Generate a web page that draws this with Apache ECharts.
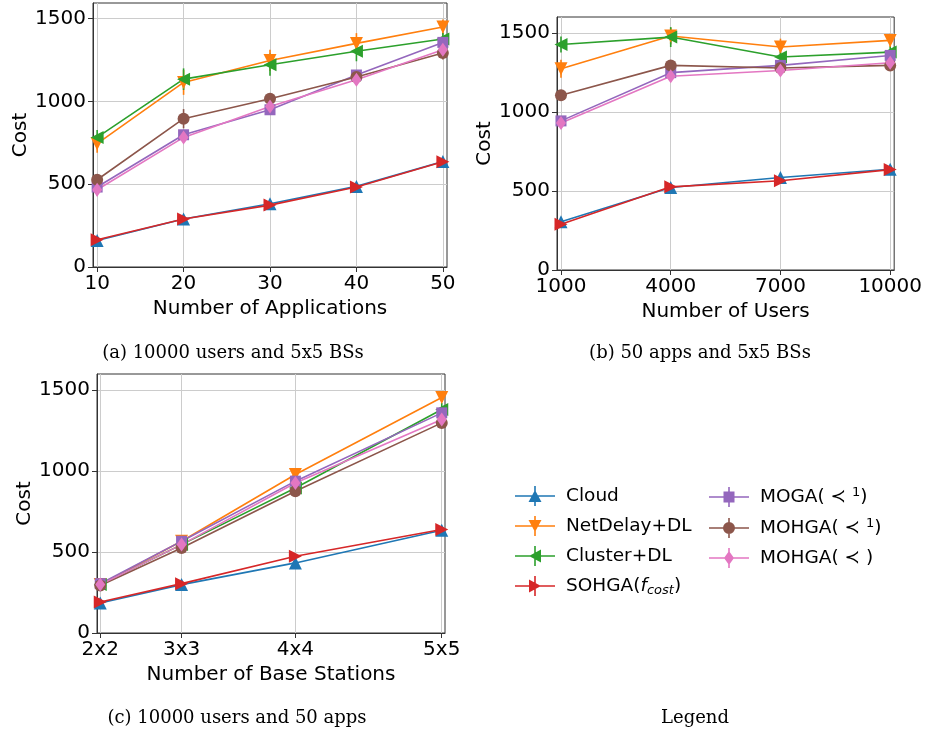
<!DOCTYPE html>
<html><head><meta charset="utf-8">
<script src="https://cdn.jsdelivr.net/npm/echarts@6/dist/echarts.min.js"></script>
<style>html,body{margin:0;padding:0;background:#fff}#c{width:925px;height:736px}</style>
</head><body><div id="c"></div>
<script>
// ---------- data ----------
const seriesNames = ['Cloud','NetDelay+DL','Cluster+DL','SOHGA(fcost)','MOGA(≺¹)','MOHGA(≺¹)','MOHGA(≺)'];
const seriesColors = ['#1f77b4','#ff7f0e','#2ca02c','#d62728','#9467bd','#8c564b','#e377c2'];

const appsX = [10,20,30,40,50];
const usersX = [1000,4000,7000,10000];
const bsX = [4,9,16,25];
const bsLabels = ['2x2','3x3','4x4','5x5'];
const yTicks = [0,500,1000,1500];

// (a) 10000 users and 5x5 BSs
const appsCloud    = [160,290,382,487,638];
const appsNetDelay = [745,1115,1248,1351,1450];
const appsCluster  = [783,1135,1222,1303,1377];
const appsSOHGA    = [165,290,374,483,636];
const appsMOGA     = [483,799,950,1160,1357];
const appsMOHGA1   = [527,896,1017,1148,1293];
const appsMOHGA    = [467,783,970,1131,1313];
const appsCloudErr    = [10,12,12,12,12];
const appsNetDelayErr = [55,75,64,62,45];
const appsClusterErr  = [45,65,66,60,36];
const appsSOHGAErr    = [10,10,10,10,10];
const appsMOGAErr     = [25,30,30,30,30];
const appsMOHGA1Err   = [30,58,30,30,40];
const appsMOHGAErr    = [40,30,30,30,35];

// (b) 50 apps and 5x5 BSs
const usersCloud    = [305,522,585,637];
const usersNetDelay = [1273,1480,1410,1452];
const usersCluster  = [1426,1473,1347,1378];
const usersSOHGA    = [290,526,564,635];
const usersMOGA     = [943,1248,1294,1357];
const usersMOHGA1   = [1105,1294,1277,1294];
const usersMOHGA    = [930,1225,1262,1311];
const usersCloudErr    = [12,12,12,12];
const usersNetDelayErr = [57,53,53,42];
const usersClusterErr  = [50,63,35,35];
const usersSOHGAErr    = [10,10,10,10];
const usersMOGAErr     = [25,30,30,30];
const usersMOHGA1Err   = [25,30,25,30];
const usersMOHGAErr    = [35,30,30,30];

// (c) 10000 users and 50 apps
const bsCloud    = [185,299,433,635];
const bsNetDelay = [299,567,979,1455];
const bsCluster  = [300,546,896,1381];
const bsSOHGA    = [192,305,474,639];
const bsMOGA     = [305,567,938,1360];
const bsMOHGA1   = [293,525,876,1298];
const bsMOHGA    = [299,546,927,1319];
const bsCloudErr    = [10,10,10,10];
const bsNetDelayErr = [25,30,30,30];
const bsClusterErr  = [25,30,30,40];
const bsSOHGAErr    = [10,10,10,10];
const bsMOGAErr     = [25,30,30,30];
const bsMOHGA1Err   = [25,30,30,30];
const bsMOHGAErr    = [25,30,30,50];

// ---------- build ----------
const FONT = 'DejaVu Sans';
const panels = [
  {xs: appsX, name: 'Number of Applications', min: 9.52, max: 50.48, ymax: 1595,
   grid: {left: 93, top: 3, width: 354, height: 264}, fmt: v => String(v),
   vals: [appsCloud,appsNetDelay,appsCluster,appsSOHGA,appsMOGA,appsMOHGA1,appsMOHGA],
   errs: [appsCloudErr,appsNetDelayErr,appsClusterErr,appsSOHGAErr,appsMOGAErr,appsMOHGA1Err,appsMOHGAErr]},
  {xs: usersX, name: 'Number of Users', min: 891, max: 10109, ymax: 1600,
   grid: {left: 557, top: 17, width: 339, height: 253}, fmt: v => String(v),
   vals: [usersCloud,usersNetDelay,usersCluster,usersSOHGA,usersMOGA,usersMOHGA1,usersMOHGA],
   errs: [usersCloudErr,usersNetDelayErr,usersClusterErr,usersSOHGAErr,usersMOGAErr,usersMOHGA1Err,usersMOHGAErr]},
  {xs: bsX, name: 'Number of Base Stations', min: 3.8, max: 25.2, ymax: 1600,
   grid: {left: 97, top: 374, width: 348, height: 259}, fmt: v => bsLabels[bsX.indexOf(v)],
   vals: [bsCloud,bsNetDelay,bsCluster,bsSOHGA,bsMOGA,bsMOHGA1,bsMOHGA],
   errs: [bsCloudErr,bsNetDelayErr,bsClusterErr,bsSOHGAErr,bsMOGAErr,bsMOHGA1Err,bsMOHGAErr]}
];

const symbols = [
  {symbol: 'triangle', size: 13, rot: 0},
  {symbol: 'triangle', size: 13, rot: 180},
  {symbol: 'triangle', size: 13, rot: 90},
  {symbol: 'triangle', size: 13, rot: -90},
  {symbol: 'rect', size: 11, rot: 0},
  {symbol: 'circle', size: 12, rot: 0},
  {symbol: 'diamond', size: [10, 14], rot: 0}
];

const base = 'M0,9.2h40v1.6H0z M19.2,0h1.6v20h-1.6z ';
const legendIcons = [
  'path://' + base + 'M20,4L26.5,16H13.5z',
  'path://' + base + 'M20,16L13.5,4H26.5z',
  'path://' + base + 'M14,10L26,3.5V16.5z',
  'path://' + base + 'M26,10L14,16.5V3.5z',
  'path://' + base + 'M14.5,4.5h11v11h-11z',
  'path://' + base + 'M14,10a6,6 0 1,1 12,0a6,6 0 1,1 -12,0z',
  'path://' + base + 'M20,3L25,10L20,17L15,10z'
];

const grids = [], xAxes = [], yAxes = [], series = [];
panels.forEach((p, pi) => {
  grids.push(Object.assign({show: true, borderColor: '#333', borderWidth: 1, backgroundColor: 'transparent'}, p.grid));
  xAxes.push({
    type: 'value', gridIndex: pi, min: p.min, max: p.max,
    name: p.name, nameLocation: 'middle', nameGap: 32,
    nameTextStyle: {fontSize: 20, color: '#000', fontFamily: FONT},
    axisLine: {show: true, onZero: false, lineStyle: {color: '#333', width: 1}},
    axisTick: {show: true, length: 5, customValues: p.xs, lineStyle: {color: '#333'}},
    axisLabel: {customValues: p.xs, formatter: p.fmt, fontSize: 20, color: '#000', fontFamily: FONT, margin: 7},
    splitLine: {show: true, lineStyle: {color: '#cccccc', width: 1}}
  });
  yAxes.push({
    type: 'value', gridIndex: pi, min: 0, max: p.ymax,
    name: 'Cost', nameLocation: 'middle', nameGap: 56,
    nameTextStyle: {fontSize: 20, color: '#000', fontFamily: FONT},
    axisLine: {show: true, lineStyle: {color: '#333', width: 1}},
    axisTick: {show: true, length: 5, customValues: yTicks, lineStyle: {color: '#333'}},
    axisLabel: {customValues: yTicks, formatter: v => String(v), fontSize: 20, color: '#000', fontFamily: FONT, margin: 7},
    splitLine: {show: true, lineStyle: {color: '#cccccc', width: 1}}
  });
  seriesNames.forEach((nm, si) => {
    const color = seriesColors[si];
    series.push({
      type: 'custom', name: nm + ' err', xAxisIndex: pi, yAxisIndex: pi, silent: true,
      data: p.xs.map((x, i) => [x, p.vals[si][i], p.errs[si][i]]),
      renderItem: (params, api) => {
        const x = api.value(0), v = api.value(1), e = api.value(2);
        const a = api.coord([x, v - e]), b = api.coord([x, v + e]);
        return {type: 'line', shape: {x1: a[0], y1: a[1], x2: b[0], y2: b[1]},
                style: {stroke: color, lineWidth: 1.6}};
      }
    });
    series.push({
      type: 'line', name: nm, xAxisIndex: pi, yAxisIndex: pi,
      data: p.xs.map((x, i) => [x, p.vals[si][i]]),
      symbol: symbols[si].symbol, symbolSize: symbols[si].size, symbolRotate: symbols[si].rot,
      showAllSymbol: true,
      lineStyle: {color: color, width: 1.6},
      itemStyle: {color: color, borderWidth: 0},
      emphasis: {disabled: true}
    });
  });
});

const richStyles = {
  n: {fontSize: 18.5, fontFamily: FONT, color: '#000', lineHeight: 22},
  i: {fontSize: 18.5, fontFamily: FONT, fontStyle: 'italic', color: '#000', lineHeight: 22},
  sub: {fontSize: 13, fontFamily: FONT, fontStyle: 'italic', color: '#000', lineHeight: 13, verticalAlign: 'bottom'},
  sup: {fontSize: 13, fontFamily: FONT, color: '#000', lineHeight: 13, verticalAlign: 'top'}
};
function legendFmt(name) {
  if (name === 'SOHGA(fcost)') return '{n|SOHGA(}{i|f}{sub|cost}{n|)}';
  if (name === 'MOGA(≺¹)') return '{n|MOGA( ≺ }{sup|1}{n|)}';
  if (name === 'MOHGA(≺¹)') return '{n|MOHGA( ≺ }{sup|1}{n|)}';
  if (name === 'MOHGA(≺)') return '{n|MOHGA( ≺ )}';
  return '{n|' + name + '}';
}
function makeLegend(idx, left) {
  return {
    orient: 'vertical', left: left, top: 481, itemWidth: 40, itemHeight: 20, itemGap: 10,
    selectedMode: false, formatter: legendFmt,
    itemStyle: {borderWidth: 0},
    textStyle: {fontSize: 18.5, fontFamily: FONT, color: '#000', padding: [0, 0, 0, 6], rich: richStyles},
    data: idx.map(i => ({name: seriesNames[i], icon: legendIcons[i]}))
  };
}

const captionFont = '18px "DejaVu Serif"';
const captions = [
  {text: '(a) 10000 users and 5x5 BSs', x: 233, y: 353},
  {text: '(b) 50 apps and 5x5 BSs', x: 700, y: 353},
  {text: '(c) 10000 users and 50 apps', x: 237, y: 718},
  {text: 'Legend', x: 695, y: 718}
];

const chart = echarts.init(document.getElementById('c'), null, {renderer: 'canvas'});
chart.setOption({
  animation: false,
  backgroundColor: '#fff',
  grid: grids, xAxis: xAxes, yAxis: yAxes, series: series,
  legend: [makeLegend([0,1,2,3], 510), makeLegend([4,5,6], 704)],
  graphic: captions.map(c => ({
    type: 'text', x: c.x, y: c.y, silent: true,
    style: {text: c.text, font: captionFont, fill: '#000', textAlign: 'center', textVerticalAlign: 'middle'}
  }))
});
</script></body></html>
